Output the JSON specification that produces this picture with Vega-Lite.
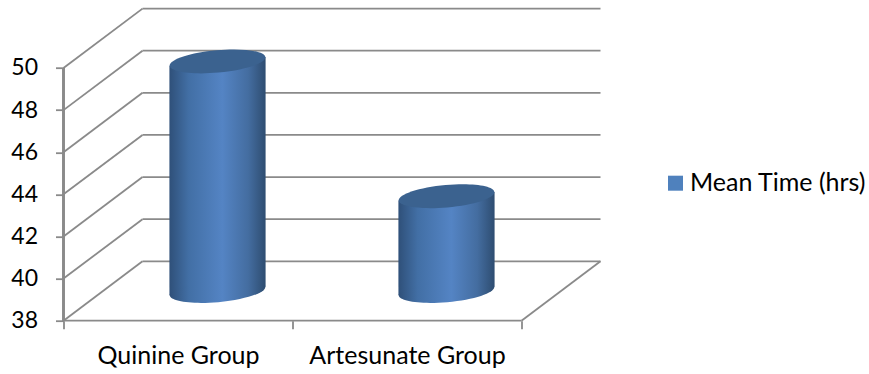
{
  "$schema": "https://vega.github.io/schema/vega-lite/v6.json",
  "width": 537,
  "height": 312,
  "autosize": "none",
  "padding": {"left": 63.5, "top": 8.7, "right": 268.5, "bottom": 53.3},
  "background": "white",
  "view": {"stroke": null},
  "datasets": {
    "ticks": [{"tick": 38}, {"tick": 40}, {"tick": 42}, {"tick": 44}, {"tick": 46}, {"tick": 48}, {"tick": 50}],
    "groups": [
      {"group": "Quinine Group", "value": 48.9, "series": "Mean Time (hrs)"},
      {"group": "Artesunate Group", "value": 42.5, "series": "Mean Time (hrs)"}
    ]
  },
  "layer": [
    {
      "data": {"name": "ticks"},
      "transform": [{"calculate": "datum.tick + 2.82", "as": "back"}],
      "layer": [
        {
          "mark": {"type": "rule", "stroke": "#8a8a8a", "strokeWidth": 1.8},
          "encoding": {
            "x": {
              "datum": 0,
              "type": "quantitative",
              "scale": {"domain": [0, 2.345], "nice": false, "zero": false},
              "axis": {
                "values": [0, 1, 2],
                "title": null,
                "grid": false,
                "domain": false,
                "tickColor": "#8a8a8a",
                "tickWidth": 1.8,
                "tickSize": 8,
                "labelExpr": "datum.value === 0 ? 'Quinine Group' : datum.value === 1 ? 'Artesunate Group' : ''",
                "labelOffset": 114.5,
                "labelAlign": "center",
                "labelFlush": false,
                "labelOverlap": false,
                "labelLimit": 300,
                "labelFont": "Lato",
                "labelFontSize": 25,
                "labelColor": "#000000",
                "labelPadding": 15
              }
            },
            "x2": {"datum": 0.345},
            "y": {
              "field": "tick",
              "type": "quantitative",
              "scale": {"domain": [38, 52.815], "nice": false, "zero": false},
              "axis": {
                "values": [38, 40, 42, 44, 46, 48, 50],
                "title": null,
                "grid": false,
                "domain": false,
                "tickColor": "#8a8a8a",
                "tickWidth": 1.8,
                "tickSize": 8,
                "labelFont": "Lato",
                "labelFontSize": 23,
                "labelColor": "#000000",
                "labelPadding": 18
              }
            },
            "y2": {"field": "back"}
          }
        },
        {
          "mark": {"type": "rule", "stroke": "#8a8a8a", "strokeWidth": 1.8},
          "encoding": {
            "x": {"datum": 0.345, "type": "quantitative"},
            "x2": {"datum": 2.345},
            "y": {"field": "back", "type": "quantitative"}
          }
        },
        {
          "transform": [{"filter": "datum.tick === 38"}],
          "layer": [
            {
              "mark": {"type": "rule", "stroke": "#8a8a8a", "strokeWidth": 1.8},
              "encoding": {
                "x": {"datum": 0, "type": "quantitative"},
                "x2": {"datum": 2},
                "y": {"field": "tick", "type": "quantitative"}
              }
            },
            {
              "mark": {"type": "rule", "stroke": "#8a8a8a", "strokeWidth": 1.8},
              "encoding": {
                "x": {"datum": 2, "type": "quantitative"},
                "x2": {"datum": 2.345},
                "y": {"field": "tick", "type": "quantitative"},
                "y2": {"field": "back"}
              }
            }
          ]
        },
        {
          "mark": {"type": "rule", "stroke": "#8a8a8a", "strokeWidth": 1.8},
          "encoding": {
            "x": {"datum": 0, "type": "quantitative"},
            "y": {"datum": 38, "type": "quantitative"},
            "y2": {"datum": 50}
          }
        }
      ]
    },
    {
      "data": {"name": "groups"},
      "transform": [
        {"window": [{"op": "row_number", "as": "slot"}]},
        {"calculate": "datum.slot - 0.3275", "as": "centre"},
        {"calculate": "datum.value + 1.41", "as": "topLevel"},
        {"calculate": "38 + 1.41", "as": "baseLevel"}
      ],
      "layer": [
        {
          "description": "Cylinder wall: both rims lean with the tilt of the end caps",
          "transform": [
            {"calculate": "[-1, 1]", "as": "side"},
            {"flatten": ["side"]},
            {"calculate": "datum.centre + datum.side * 0.21", "as": "edge"},
            {"calculate": "datum.topLevel + datum.side * 0.2066", "as": "rimTop"},
            {"calculate": "datum.baseLevel + datum.side * 0.2066", "as": "rimBase"}
          ],
          "mark": {
            "type": "area",
            "fill": {
              "gradient": "linear",
              "x1": 0, "y1": 0, "x2": 1, "y2": 0,
              "stops": [
                {"offset": 0, "color": "#2f5079"},
                {"offset": 0.2, "color": "#426fa5"},
                {"offset": 0.55, "color": "#5484c4"},
                {"offset": 0.82, "color": "#446da0"},
                {"offset": 1, "color": "#2e4d71"}
              ]
            }
          },
          "encoding": {
            "x": {"field": "edge", "type": "quantitative"},
            "y": {"field": "rimTop", "type": "quantitative"},
            "y2": {"field": "rimBase"},
            "detail": {"field": "group"}
          }
        },
        {
          "description": "Lower cap, lit like the wall",
          "mark": {
            "type": "point",
            "filled": true,
            "opacity": 1,
            "size": 9216,
            "shape": "M-0.996,0.09 A1,0.233,-5.2,1,1,0.996,-0.09 A1,0.233,-5.2,1,1,-0.996,0.09 Z",
            "fill": {
              "gradient": "linear",
              "x1": 0, "y1": 0, "x2": 1, "y2": 0,
              "stops": [
                {"offset": 0, "color": "#2f5079"},
                {"offset": 0.2, "color": "#426fa5"},
                {"offset": 0.55, "color": "#5484c4"},
                {"offset": 0.82, "color": "#446da0"},
                {"offset": 1, "color": "#2e4d71"}
              ]
            }
          },
          "encoding": {
            "x": {"field": "centre", "type": "quantitative"},
            "y": {"field": "baseLevel", "type": "quantitative"}
          }
        },
        {
          "description": "Flat upper cap",
          "mark": {
            "type": "point",
            "filled": true,
            "opacity": 1,
            "size": 9216,
            "shape": "M-0.996,0.09 A1,0.233,-5.2,1,1,0.996,-0.09 A1,0.233,-5.2,1,1,-0.996,0.09 Z",
            "fill": "#3b628f"
          },
          "encoding": {
            "x": {"field": "centre", "type": "quantitative"},
            "y": {"field": "topLevel", "type": "quantitative"}
          }
        },
        {
          "description": "Invisible marks that carry the series legend",
          "mark": {"type": "square", "opacity": 0},
          "encoding": {
            "x": {"field": "centre", "type": "quantitative"},
            "y": {"field": "topLevel", "type": "quantitative"},
            "color": {
              "field": "series",
              "type": "nominal",
              "scale": {"range": ["#4f81bd"]},
              "legend": {
                "title": null,
                "orient": "none",
                "legendX": 599.5,
                "legendY": 162,
                "symbolType": "square",
                "symbolSize": 225,
                "symbolOpacity": 1,
                "symbolStrokeWidth": 0,
                "labelFont": "Lato",
                "labelFontSize": 25,
                "labelColor": "#000000",
                "labelLimit": 260,
                "labelOffset": 2
              }
            }
          }
        }
      ]
    }
  ]
}
